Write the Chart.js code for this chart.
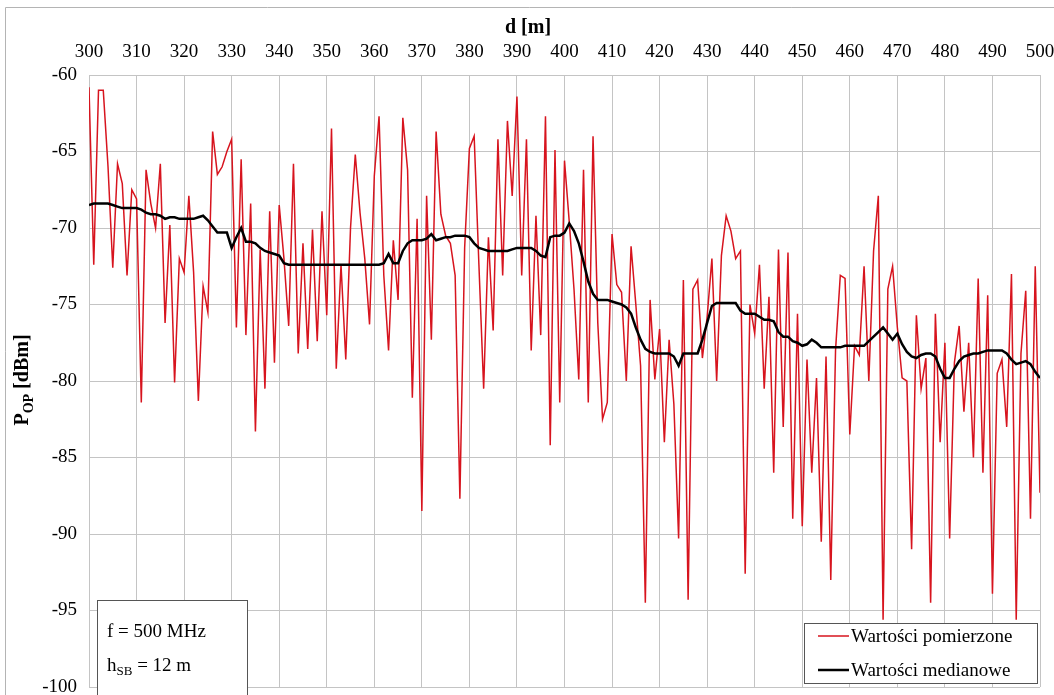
<!DOCTYPE html>
<html>
<head>
<meta charset="utf-8">
<script src="https://cdn.jsdelivr.net/npm/chart.js@4"></script>
<style>
  html, body { margin: 0; padding: 0; background: #fff; overflow: hidden; }
</style>
</head>
<body>
<canvas id="myChart" width="1054" height="695"></canvas>
<script>
  // distance along the route [m]
  const distances = [
    300, 301, 302, 303, 304, 305, 306, 307, 308, 309,
    310, 311, 312, 313, 314, 315, 316, 317, 318, 319,
    320, 321, 322, 323, 324, 325, 326, 327, 328, 329,
    330, 331, 332, 333, 334, 335, 336, 337, 338, 339,
    340, 341, 342, 343, 344, 345, 346, 347, 348, 349,
    350, 351, 352, 353, 354, 355, 356, 357, 358, 359,
    360, 361, 362, 363, 364, 365, 366, 367, 368, 369,
    370, 371, 372, 373, 374, 375, 376, 377, 378, 379,
    380, 381, 382, 383, 384, 385, 386, 387, 388, 389,
    390, 391, 392, 393, 394, 395, 396, 397, 398, 399,
    400, 401, 402, 403, 404, 405, 406, 407, 408, 409,
    410, 411, 412, 413, 414, 415, 416, 417, 418, 419,
    420, 421, 422, 423, 424, 425, 426, 427, 428, 429,
    430, 431, 432, 433, 434, 435, 436, 437, 438, 439,
    440, 441, 442, 443, 444, 445, 446, 447, 448, 449,
    450, 451, 452, 453, 454, 455, 456, 457, 458, 459,
    460, 461, 462, 463, 464, 465, 466, 467, 468, 469,
    470, 471, 472, 473, 474, 475, 476, 477, 478, 479,
    480, 481, 482, 483, 484, 485, 486, 487, 488, 489,
    490, 491, 492, 493, 494, 495, 496, 497, 498, 499,
    500
  ];

  // measured power [dBm]
  const measured = [
    -60.8, -72.4, -61.0, -61.0, -66.0, -72.6, -65.8, -67.1, -73.1, -67.5,
    -68.1, -81.4, -66.2, -68.4, -70.0, -65.8, -76.2, -69.8, -80.1, -72.0,
    -72.9, -67.9, -72.9, -81.3, -73.8, -75.5, -63.7, -66.5, -66.0, -65.0,
    -64.2, -76.5, -65.5, -77.0, -68.4, -83.3, -71.4, -80.5, -68.9, -78.8,
    -68.5, -72.0, -76.4, -65.8, -78.2, -71.0, -77.9, -70.1, -77.4, -68.9,
    -75.7, -63.5, -79.2, -72.4, -78.6, -70.0, -65.2, -69.0, -72.0, -76.3,
    -66.6, -62.7, -73.1, -78.0, -70.8, -74.7, -62.8, -66.2, -81.1, -69.4,
    -88.5, -67.9, -77.3, -63.7, -69.1, -70.5, -71.0, -73.1, -87.7, -71.3,
    -64.8, -64.0, -72.4, -80.5, -70.6, -76.7, -64.2, -73.1, -63.0, -67.9,
    -61.4, -73.1, -64.2, -78.0, -69.2, -77.0, -62.7, -84.2, -64.9, -81.4,
    -65.6, -69.6, -74.0, -79.9, -66.2, -81.4, -64.0, -76.2, -82.5, -81.4,
    -70.4, -73.7, -74.2, -80.0, -71.2, -75.0, -79.0, -94.5, -74.7, -79.9,
    -76.6, -84.0, -77.3, -81.5, -90.3, -73.4, -94.3, -74.0, -73.4, -78.5,
    -75.8, -72.0, -80.0, -71.8, -69.2, -70.2, -72.0, -71.5, -92.6, -75.0,
    -76.9, -72.4, -80.5, -74.5, -86.0, -71.4, -83.0, -71.6, -89.0, -75.6,
    -89.5, -78.6, -86.0, -79.8, -90.5, -78.4, -93.0, -78.0, -73.1, -73.3,
    -83.5, -77.7, -78.3, -72.5, -80.0, -71.5, -67.9, -95.6, -74.0, -72.5,
    -76.5, -79.8, -80.0, -91.0, -75.7, -80.5, -78.5, -94.5, -75.6, -84.0,
    -77.5, -90.3, -78.8, -76.4, -82.0, -77.5, -85.0, -73.3, -86.0, -74.4,
    -93.9, -79.5, -78.6, -83.0, -73.0, -95.6, -78.2, -74.1, -89.0, -72.5,
    -87.3
  ];

  // running median [dBm]
  const median = [
    -68.5, -68.4, -68.4, -68.4, -68.4, -68.5, -68.6, -68.7, -68.7, -68.7,
    -68.7, -68.8, -69.0, -69.1, -69.1, -69.2, -69.4, -69.3, -69.3, -69.4,
    -69.4, -69.4, -69.4, -69.3, -69.2, -69.5, -69.9, -70.3, -70.3, -70.3,
    -71.3, -70.6, -70.0, -70.9, -70.9, -71.0, -71.3, -71.5, -71.6, -71.7,
    -71.8, -72.3, -72.4, -72.4, -72.4, -72.4, -72.4, -72.4, -72.4, -72.4,
    -72.4, -72.4, -72.4, -72.4, -72.4, -72.4, -72.4, -72.4, -72.4, -72.4,
    -72.4, -72.4, -72.3, -71.7, -72.3, -72.3, -71.5, -71.0, -70.8, -70.8,
    -70.8, -70.7, -70.4, -70.8, -70.7, -70.6, -70.6, -70.5, -70.5, -70.5,
    -70.6, -71.0, -71.3, -71.4, -71.5, -71.5, -71.5, -71.5, -71.5, -71.4,
    -71.3, -71.3, -71.3, -71.3, -71.5, -71.8, -71.9, -70.6, -70.5, -70.5,
    -70.3, -69.7, -70.2, -71.0, -72.2, -73.5, -74.3, -74.7, -74.7, -74.7,
    -74.8, -74.9, -75.0, -75.2, -75.6, -76.5, -77.3, -77.9, -78.1, -78.2,
    -78.2, -78.2, -78.2, -78.4, -79.0, -78.2, -78.2, -78.2, -78.2, -77.3,
    -76.2, -75.1, -74.9, -74.9, -74.9, -74.9, -74.9, -75.4, -75.6, -75.6,
    -75.6, -75.8, -76.0, -76.0, -76.1, -76.8, -77.1, -77.1, -77.4, -77.5,
    -77.7, -77.6, -77.3, -77.5, -77.8, -77.8, -77.8, -77.8, -77.8, -77.7,
    -77.7, -77.7, -77.7, -77.7, -77.4, -77.1, -76.8, -76.5, -76.9, -77.3,
    -76.9, -77.6, -78.1, -78.4, -78.5, -78.3, -78.2, -78.2, -78.4, -79.2,
    -79.8, -79.8, -79.2, -78.7, -78.4, -78.3, -78.2, -78.2, -78.1, -78.0,
    -78.0, -78.0, -78.0, -78.2, -78.6, -78.9, -78.8, -78.7, -78.9, -79.4,
    -79.8
  ];

  const xRange = [300, 500];
  const xStep = 10;
  const yRange = [-100, -60];
  const yStep = 5;

  const serif = '"Liberation Serif", "Times New Roman", serif';

  const toPoints = (vals) => vals.map((v, i) => ({ x: distances[i], y: v }));

  // y title with subscript, top title, note box and legend box
  const extras = {
    id: 'extras',
    afterDraw(chart) {
      const ctx = chart.ctx;
      ctx.save();

      // outer frame (top and left edges visible)
      ctx.strokeStyle = '#b4b4b4';
      ctx.lineWidth = 1;
      ctx.beginPath();
      ctx.moveTo(5.5, 695);
      ctx.lineTo(5.5, 7.5);
      ctx.lineTo(1054, 7.5);
      ctx.stroke();

      ctx.fillStyle = '#000';
      ctx.textBaseline = 'alphabetic';

      // top axis title
      ctx.font = 'bold 20px ' + serif;
      ctx.textAlign = 'center';
      ctx.fillText('d [m]', 528, 33);

      // y axis title
      ctx.save();
      ctx.translate(28, 380);
      ctx.rotate(-Math.PI / 2);
      ctx.textAlign = 'left';
      const parts = [['P', 20, 0], ['OP', 14, 5], [' [dBm]', 20, 0]];
      let w = 0;
      parts.forEach(p => { ctx.font = 'bold ' + p[1] + 'px ' + serif; w += ctx.measureText(p[0]).width; });
      let x = -w / 2;
      parts.forEach(p => {
        ctx.font = 'bold ' + p[1] + 'px ' + serif;
        ctx.fillText(p[0], x, p[2]);
        x += ctx.measureText(p[0]).width;
      });
      ctx.restore();

      // parameter box
      ctx.fillStyle = '#fff';
      ctx.fillRect(97, 600, 150, 95);
      ctx.strokeStyle = '#555';
      ctx.strokeRect(97.5, 600.5, 150, 95);
      ctx.fillStyle = '#000';
      ctx.textAlign = 'left';
      ctx.font = '19px ' + serif;
      ctx.fillText('f = 500 MHz', 107, 637);
      ctx.fillText('h', 107, 671);
      let hx = 107 + ctx.measureText('h').width;
      ctx.font = '13px ' + serif;
      ctx.fillText('SB', hx, 675);
      hx += ctx.measureText('SB').width;
      ctx.font = '19px ' + serif;
      ctx.fillText(' = 12 m', hx, 671);

      // legend box
      ctx.fillStyle = '#fff';
      ctx.fillRect(804, 623, 233, 60);
      ctx.strokeStyle = '#555';
      ctx.strokeRect(804.5, 623.5, 233, 60);
      const items = [
        ['Wartości pomierzone', chart.data.datasets[1].borderColor, 1.5, 636],
        ['Wartości medianowe', chart.data.datasets[0].borderColor, 2.5, 670]
      ];
      items.forEach(it => {
        ctx.strokeStyle = it[1];
        ctx.lineWidth = it[2];
        ctx.beginPath();
        ctx.moveTo(818, it[3]);
        ctx.lineTo(849, it[3]);
        ctx.stroke();
        ctx.fillStyle = '#000';
        ctx.font = '19px ' + serif;
        ctx.textBaseline = 'middle';
        ctx.fillText(it[0], 851, it[3] + 1);
      });

      ctx.restore();
    }
  };

  const data = {
    datasets: [
      {
        label: 'Wartości medianowe',
        data: toPoints(median),
        borderColor: '#000000',
        borderWidth: 2.5,
        pointRadius: 0,
        tension: 0
      },
      {
        label: 'Wartości pomierzone',
        data: toPoints(measured),
        borderColor: '#d7141e',
        borderWidth: 1.5,
        pointRadius: 0,
        tension: 0
      }
    ]
  };

  const config = {
    type: 'line',
    data: data,
    options: {
      responsive: false,
      animation: false,
      layout: { padding: { left: 0, right: 14, top: 0, bottom: 8 } },
      plugins: {
        legend: { display: false },
        tooltip: { enabled: false }
      },
      scales: {
        x: {
          type: 'linear',
          position: 'top',
          min: xRange[0],
          max: xRange[1],
          afterFit: (s) => { s.height = 75; s.paddingLeft = 0; s.paddingRight = 0; },
          ticks: {
            stepSize: xStep,
            padding: 12,
            color: '#000',
            font: { family: serif, size: 19 }
          },
          grid: { color: '#c4c4c4', drawTicks: false },
          border: { color: '#c4c4c4' }
        },
        y: {
          min: yRange[0],
          max: yRange[1],
          afterFit: (s) => { s.width = 89; s.paddingTop = 0; s.paddingBottom = 0; },
          ticks: {
            stepSize: yStep,
            padding: 12,
            color: '#000',
            font: { family: serif, size: 19 }
          },
          grid: { color: '#c4c4c4', drawTicks: false },
          border: { color: '#c4c4c4' }
        }
      }
    },
    plugins: [extras]
  };

  const myChart = new Chart(
    document.getElementById('myChart'),
    config
  );
</script>
</body>
</html>
